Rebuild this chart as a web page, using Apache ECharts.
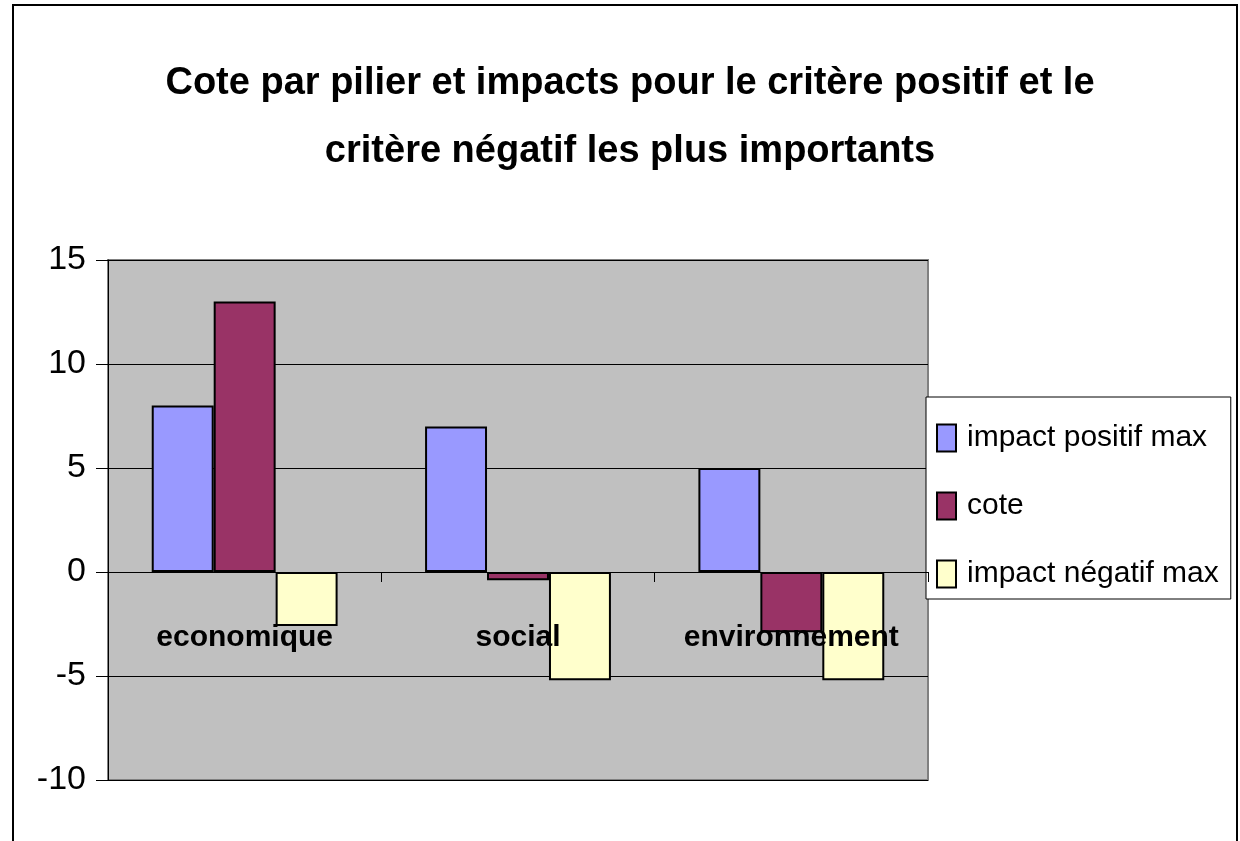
<!DOCTYPE html>
<html>
<head>
<meta charset="utf-8">
<script src="https://cdn.jsdelivr.net/npm/echarts@6/dist/echarts.min.js"></script>
<style>
  html, body { margin: 0; padding: 0; background: #fff; }
  #chart { width: 1240px; height: 841px; }
</style>
</head>
<body>
<div id="chart"></div>
<script>
// catégories et valeurs
const piliers = ['economique', 'social', 'environnement'];
const impactPositif = [8, 7, 5];
const cote = [13, -0.4, -2.9];
const impactNegatif = [-2.6, -5.2, -5.2];
const seriesNames = ['impact positif max', 'cote', 'impact négatif max'];
const yTicks = [-10, -5, 0, 5, 10, 15];

const font = "'Liberation Sans', Arial, sans-serif";

const chart = echarts.init(document.getElementById('chart'));

const barStyle = (color) => ({
    color: color,
    borderColor: '#000',
    borderWidth: 2
});

const option = {
    backgroundColor: '#fff',
    animation: false,
    title: {
        text: 'Cote par pilier et impacts pour le critère positif et le\ncritère négatif les plus importants',
        left: 630,
        top: 50,
        textAlign: 'center',
        padding: 0,
        textStyle: {
            fontFamily: font,
            fontWeight: 'bold',
            fontSize: 38,
            lineHeight: 68,
            color: '#000'
        }
    },
    graphic: [
        {
            type: 'rect',
            shape: { x: 13, y: 5, width: 1224, height: 900 },
            style: { fill: 'none', stroke: '#000', lineWidth: 2 },
            silent: true
        }
    ],
    legend: {
        orient: 'vertical',
        left: 926,
        top: 397,
        data: seriesNames,
        backgroundColor: '#fff',
        borderColor: '#000',
        borderWidth: 1,
        borderRadius: 0,
        padding: [26, 12, 10, 10],
        itemWidth: 19,
        itemHeight: 27,
        itemGap: 38,
        icon: 'rect',
        textStyle: {
            fontFamily: font,
            fontSize: 30,
            lineHeight: 30,
            color: '#000',
            padding: [0, 0, 0, 6]
        }
    },
    grid: {
        left: 108,
        top: 260,
        width: 820,
        height: 520,
        show: true,
        backgroundColor: '#C0C0C0',
        borderColor: '#808080',
        borderWidth: 2,
        containLabel: false,
        outerBoundsMode: 'none'
    },
    xAxis: [
        {
            // axe du zéro : ligne et graduations
            type: 'category',
            data: piliers,
            axisLine: { onZero: true, lineStyle: { color: '#000', width: 1 } },
            axisTick: { show: true, length: 10, lineStyle: { color: '#000' } },
            axisLabel: { show: false },
            z: 10
        },
        {
            // libellés des piliers, placés dans la zone de tracé
            type: 'category',
            data: piliers,
            position: 'bottom',
            offset: -208,
            axisLine: { show: false, onZero: false },
            axisTick: { show: false },
            axisLabel: {
                margin: 51,
                interval: 0,
                hideOverlap: false,
                fontFamily: font,
                fontWeight: 'bold',
                fontSize: 30,
                color: '#000'
            },
            z: 10
        }
    ],
    yAxis: {
        type: 'value',
        min: yTicks[0],
        max: yTicks[yTicks.length - 1],
        interval: 5,
        axisLine: { show: true, lineStyle: { color: '#000', width: 1 } },
        axisTick: { show: true, length: 12, lineStyle: { color: '#000' } },
        splitLine: { show: true, lineStyle: { color: '#000', width: 1 } },
        axisLabel: {
            margin: 22,
            fontFamily: font,
            fontSize: 34,
            color: '#000'
        }
    },
    series: [
        {
            name: seriesNames[0],
            type: 'bar',
            data: impactPositif,
            barGap: '0%',
            barCategoryGap: '32%',
            itemStyle: barStyle('#9999FF')
        },
        {
            name: seriesNames[1],
            type: 'bar',
            data: cote,
            barGap: '0%',
            barCategoryGap: '32%',
            itemStyle: barStyle('#993366')
        },
        {
            name: seriesNames[2],
            type: 'bar',
            data: impactNegatif,
            barGap: '0%',
            barCategoryGap: '32%',
            itemStyle: barStyle('#FFFFCC')
        }
    ]
};

chart.setOption(option);
</script>
</body>
</html>
